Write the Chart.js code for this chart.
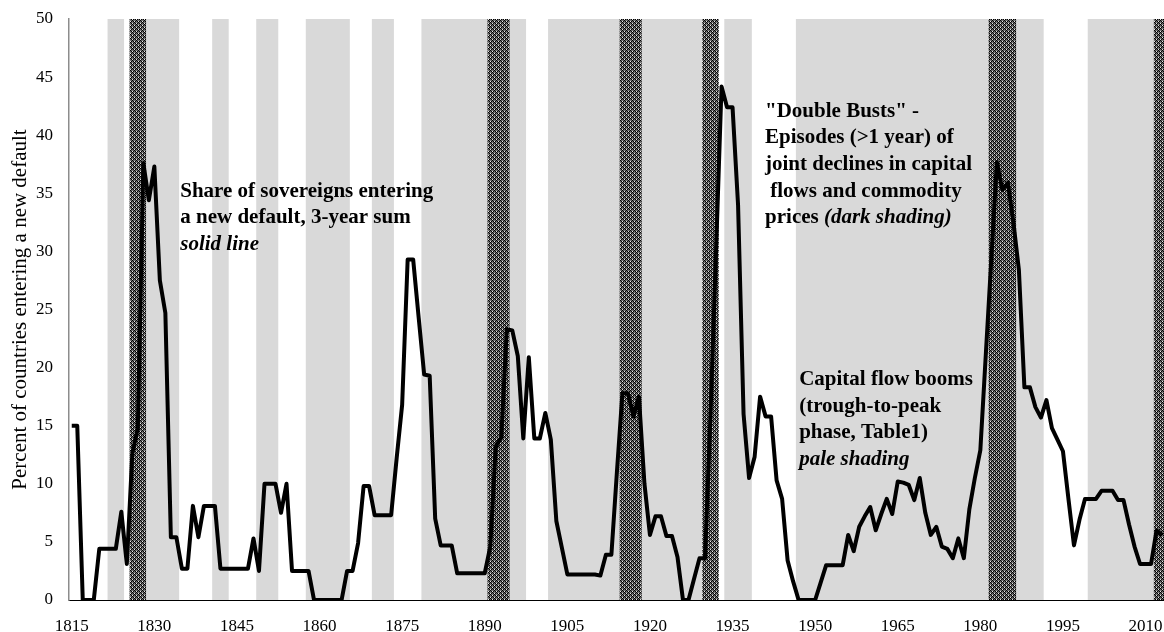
<!DOCTYPE html>
<html>
<head>
<meta charset="utf-8">
<title>Sovereign defaults, capital flow booms and double busts</title>
<script src="https://cdn.jsdelivr.net/npm/chart.js@4.4.0/dist/chart.umd.min.js"></script>
<style>
  body { margin: 0; background: #fff; }
  #wrap { width: 1164px; height: 632px; }
</style>
</head>
<body>
<div id="wrap"><canvas id="defaultChart" width="1164" height="632"></canvas></div>
<script>
// share of sovereigns entering a new default, 3-year sum, one value per year from firstYear
var firstYear = 1815;
var defaultShare = [
  15, 15, 0, 0, 0, 4.4, 4.4, 4.4, 4.4, 7.6,            // 1815-1824
  3.1, 12.6, 14.8, 37.6, 34.4, 37.3, 27.5, 24.7, 5.4, 5.4, // 1825-1834
  2.7, 2.7, 8.1, 5.4, 8.1, 8.1, 8.1, 2.7, 2.7, 2.7,    // 1835-1844
  2.7, 2.7, 2.7, 5.3, 2.5, 10, 10, 10, 7.5, 10,        // 1845-1854
  2.5, 2.5, 2.5, 2.5, 0, 0, 0, 0, 0, 0,                // 1855-1864
  2.5, 2.5, 4.9, 9.8, 9.8, 7.3, 7.3, 7.3, 7.3, 12.2,   // 1865-1874
  16.8, 29.3, 29.3, 24.3, 19.4, 19.3, 7.0, 4.7, 4.7, 4.7, // 1875-1884
  2.3, 2.3, 2.3, 2.3, 2.3, 2.3, 4.6, 13.2, 14.0, 23.3, // 1885-1894
  23.2, 21.0, 13.9, 20.9, 13.9, 13.9, 16.1, 13.8, 6.8, 4.5, // 1895-1904
  2.2, 2.2, 2.2, 2.2, 2.2, 2.2, 2.1, 3.9, 3.9, 11,     // 1905-1914
  17.8, 17.8, 15.8, 17.5, 10, 5.6, 7.2, 7.2, 5.5, 5.5, // 1915-1924
  3.7, 0, 0, 1.8, 3.6, 3.6, 16, 30, 44.2, 42.4,        // 1925-1934
  42.4, 34, 16, 10.5, 12.3, 17.5, 15.8, 15.8, 10.3, 8.7, // 1935-1944
  3.4, 1.6, 0, 0, 0, 0, 1.5, 3, 3, 3,                  // 1945-1954
  3, 5.6, 4.2, 6.3, 7.2, 8.0, 6.0, 7.4, 8.7, 7.4,      // 1955-1964
  10.2, 10.1, 9.9, 8.6, 10.5, 7.5, 5.6, 6.3, 4.6, 4.4, // 1965-1974
  3.6, 5.3, 3.6, 7.8, 10.5, 12.9, 21.2, 29.4, 37.7, 35.3, // 1975-1984
  35.9, 32.5, 28.4, 18.3, 18.3, 16.6, 15.7, 17.2, 14.8, 13.8, // 1985-1994
  12.8, 8.7, 4.7, 6.9, 8.7, 8.7, 8.7, 9.4, 9.4, 9.4,   // 1995-2004
  8.6, 8.6, 6.5, 4.6, 3.1, 3.1, 3.1, 6.0, 5.6          // 2005-2013
];

// x axis labels every 15 years
var tickYears = [1815, 1830, 1845, 1860, 1875, 1890, 1905, 1920, 1935, 1950, 1965, 1980, 1995, 2010];

// capital flow booms, trough-to-peak (pale shading), first and last year
var boomPeriods = [
  [1822, 1824], [1829, 1834], [1841, 1843], [1849, 1852], [1858, 1865], [1870, 1873],
  [1879, 1897], [1902, 1929], [1934, 1938], [1947, 1991], [2000, 2011]
];

// "double busts" (dark shading), first and last year
var bustPeriods = [[1826, 1828], [1891, 1894], [1915, 1918], [1930, 1932], [1982, 1986], [2012, 2013]];

// text boxes on the plot: anchor = year of left edge, value of first baseline
var notes = [
  { year: 1834.7, value: 34.7, lines: [
    [["Share of sovereigns entering", "bold"]],
    [["a new default, 3-year sum", "bold"]],
    [["solid line", "italic bold"]]
  ]},
  { year: 1940.9, value: 41.6, lines: [
    [['"Double Busts" -', "bold"]],
    [["Episodes (>1 year) of", "bold"]],
    [["joint declines in capital", "bold"]],
    [[" flows and commodity", "bold"]],
    [["prices ", "bold"], ["(dark shading)", "italic bold"]]
  ]},
  { year: 1947.1, value: 18.5, lines: [
    [["Capital flow booms", "bold"]],
    [["(trough-to-peak", "bold"]],
    [["phase, Table1)", "bold"]],
    [["pale shading", "italic bold"]]
  ]}
];

var serif = '"Liberation Serif", "Times New Roman", serif';

//build the points from the yearly values
var points = [];
for (var i = 0; i < defaultShare.length; i++) {
  points.push({ x: firstYear + i, y: defaultShare[i] });
}

//small crosshatch tile for the dark bands
function makeHatch(ctx) {
  var tile = document.createElement('canvas');
  tile.width = 4; tile.height = 4;
  var t = tile.getContext('2d');
  t.fillStyle = '#6e6e6e';
  t.fillRect(0, 0, 4, 4);
  t.fillStyle = '#000';
  for (var y = 0; y < 4; y++) {
    for (var x = 0; x < 4; x++) {
      if ((x + y) % 4 === 0 || (x - y + 4) % 4 === 0) t.fillRect(x, y, 1, 1);
    }
  }
  t.fillStyle = '#e8e8e8';
  t.fillRect(2, 1, 1, 1);
  t.fillRect(0, 3, 1, 1);
  return ctx.createPattern(tile, 'repeat');
}

//pale and dark bands behind the line
var shadingPlugin = {
  id: 'shading',
  beforeDatasetsDraw: function(chart) {
    var ctx = chart.ctx, area = chart.chartArea, xs = chart.scales.x;
    ctx.save();
    ctx.beginPath();
    ctx.rect(area.left, area.top, area.right - area.left, area.bottom - area.top);
    ctx.clip();
    ctx.fillStyle = '#d9d9d9';
    boomPeriods.forEach(function(p) {
      var x0 = xs.getPixelForValue(p[0] - 0.5), x1 = xs.getPixelForValue(p[1] + 0.5);
      ctx.fillRect(x0, area.top, x1 - x0, area.bottom - area.top);
    });
    ctx.fillStyle = makeHatch(ctx);
    bustPeriods.forEach(function(p) {
      var x0 = xs.getPixelForValue(p[0] - 0.5), x1 = xs.getPixelForValue(p[1] + 0.5);
      ctx.fillRect(x0, area.top, x1 - x0, area.bottom - area.top);
    });
    ctx.restore();
  }
};

//annotation text
var notesPlugin = {
  id: 'notes',
  afterDatasetsDraw: function(chart) {
    var ctx = chart.ctx, xs = chart.scales.x, ys = chart.scales.y;
    ctx.save();
    ctx.fillStyle = '#000';
    ctx.textBaseline = 'alphabetic';
    ctx.textAlign = 'left';
    notes.forEach(function(n) {
      var x = xs.getPixelForValue(n.year), y = ys.getPixelForValue(n.value);
      n.lines.forEach(function(line, k) {
        var cx = x;
        line.forEach(function(part) {
          ctx.font = part[1] + ' 21px ' + serif;
          ctx.fillText(part[0], cx, y + k * 26.7);
          cx += ctx.measureText(part[0]).width;
        });
      });
    });
    ctx.restore();
  }
};

var ctx = document.getElementById('defaultChart').getContext('2d');
Chart.defaults.font.family = serif;
Chart.defaults.color = '#000';

var chartdata = {
  datasets: [
    {
      label: 'Share of sovereigns entering a new default',
      data: points,
      borderColor: '#000',
      backgroundColor: '#000',
      borderWidth: 4,
      borderJoinStyle: 'round',
      pointRadius: 0,
      tension: 0,
      fill: false
    }
  ]
};

var defaultChart = new Chart(ctx, {
  type: 'line',
  data: chartdata,
  plugins: [shadingPlugin, notesPlugin],
  options: {
    responsive: false,
    animation: false,
    layout: { padding: { top: 19, right: 0, bottom: 0, left: 0 } },
    plugins: { legend: { display: false }, tooltip: { enabled: false } },
    scales: {
      x: {
        type: 'linear',
        min: 1814.5,
        max: 2013.35,
        grid: { display: false },
        border: { display: true, color: '#000', width: 1, z: 1 },
        afterBuildTicks: function(scale) {
          scale.ticks = tickYears.map(function(v) { return { value: v }; });
        },
        afterFit: function(scale) {
          scale.height = 32;
          scale.paddingLeft = 0;
          scale.paddingRight = 0;
        },
        ticks: {
          autoSkip: false,
          maxRotation: 0,
          padding: 8,
          font: { size: 17 },
          callback: function(v) { return String(v); }
        }
      },
      y: {
        min: 0,
        max: 50,
        grid: { display: false },
        border: { display: true, color: '#8c8c8c', width: 1.5, z: 1 },
        afterFit: function(scale) {
          scale.width = 69;
          scale.paddingTop = 0;
          scale.paddingBottom = 0;
        },
        ticks: { stepSize: 5, padding: 8, font: { size: 17 } },
        title: {
          display: true,
          text: 'Percent of countries entering a new default',
          font: { size: 21 },
          padding: { top: 8, bottom: 0 }
        }
      }
    }
  }
});
</script>
</body>
</html>
